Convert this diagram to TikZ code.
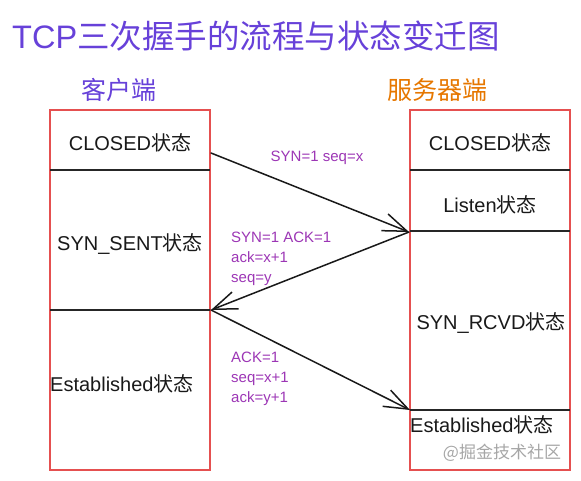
\documentclass[tikz,border=0pt]{standalone}
\usepackage{fontspec}
\setmainfont{Liberation Sans}
\newfontfamily\cjk{Noto Sans CJK SC}
\usepackage{xcolor}
\usetikzlibrary{positioning, arrows.meta}
\definecolor{titleviolet}{HTML}{6741D9}
\definecolor{msgpurple}{HTML}{9C36B5}
\definecolor{serverorange}{HTML}{E67700}
\definecolor{lanered}{HTML}{E03131}
\tikzset{handshake/.style={
    x=1pt, y=-1pt,
    lane/.style={rectangle, draw=lanered!85, line width=1.2pt, minimum width=160pt, minimum height=360pt, inner sep=0pt},
    sepline/.style={line width=1.6pt, black!85},
    state/.style={font=\fontsize{20}{24}\selectfont, text=black!90, inner sep=0pt},
    msg/.style={font=\fontsize{15}{20}\selectfont, text=msgpurple, align=left, inner sep=0pt},
    msgarrow/.style={line width=1.5pt, black!90, line cap=round, -{Straight Barb[length=24pt,width=18pt]}},
    side/.style={font=\cjk\fontsize{25}{30}\selectfont, inner sep=0pt},
}}

\begin{document}
\begin{tikzpicture}[handshake]
    \useasboundingbox (0,0) rectangle (581,480);

    % title and the two sides
    \node[anchor=base west, inner sep=0pt, text=titleviolet, font=\fontsize{32.5}{36}\selectfont] (title) at (12,48) {TCP{\cjk 三次握手的流程与状态变迁图}};
    \node[side, text=titleviolet] (clientlabel) at (119,90) {客户端};
    \node[side, text=serverorange] (serverlabel) at (437,90) {服务器端};

    % client lane
    \node[lane] (client) at (130,290) {};
    \draw[sepline] (50,170) -- (210,170);
    \draw[sepline] (50,310) -- (210,310);
    \node[state] (cclosed) at (130,143) {CLOSED{\cjk 状态}};
    \node[state] (csent) at (130,244) {SYN\_SENT{\cjk 状态}};
    \node[state, anchor=west] (cestab) at (50,384) {Established{\cjk 状态}};

    % server lane
    \node[lane] (server) at (490,290) {};
    \draw[sepline] (410,170) -- (570,170);
    \draw[sepline] (410,231) -- (570,231);
    \draw[sepline] (410,410) -- (570,410);
    \node[state] (sclosed) at (490,143) {CLOSED{\cjk 状态}};
    \node[state] (slisten) at (490,205) {Listen{\cjk 状态}};
    \node[state] (srcvd) at (491,323) {SYN\_RCVD{\cjk 状态}};
    \node[state, anchor=west] (sestab) at (410,425) {Established{\cjk 状态}};
    \node[inner sep=0pt, text=black!35, font=\cjk\fontsize{17}{20}\selectfont] (mark) at (502,453) {@掘金技术社区};

    % handshake messages
    \coordinate (synout) at (211,153);
    \coordinate (synin) at (409,232);
    \coordinate (ackout) at (211,310);
    \coordinate (ackin) at (410,410);
    \draw[msgarrow] (synout) -- (synin);
    \draw[msgarrow] (synin) -- (ackout);
    \draw[msgarrow] (ackout) -- (ackin);
    \node[msg] (synmsg) at (317,158) {SYN=1 seq=x};
    \node[msg, anchor=north west] (synackmsg) at (231,232) {SYN=1 ACK=1\\ack=x+1\\seq=y};
    \node[msg, anchor=north west] (ackmsg) at (231,352) {ACK=1\\seq=x+1\\ack=y+1};
\end{tikzpicture}
\end{document}
